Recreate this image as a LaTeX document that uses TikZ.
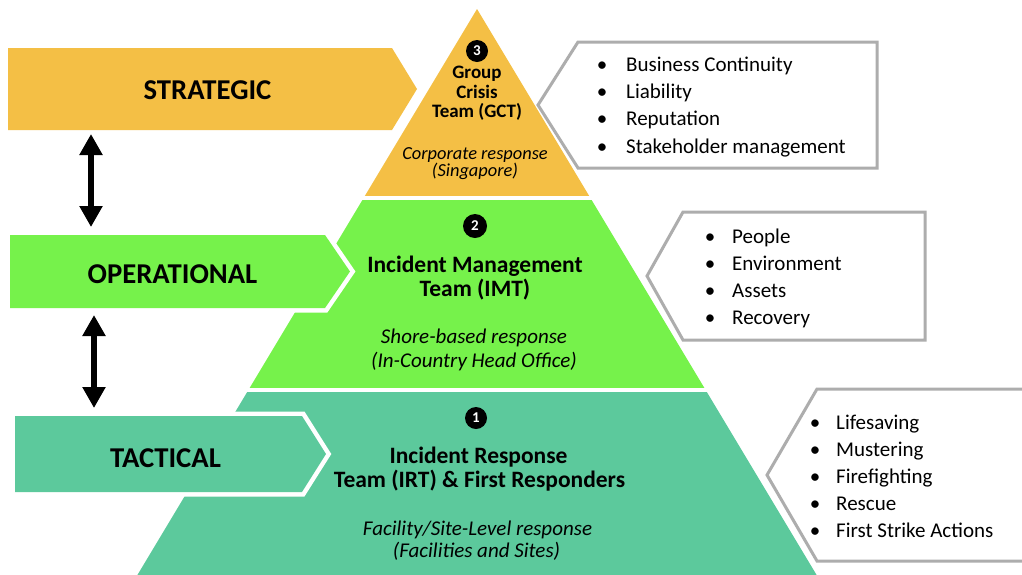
\documentclass[tikz,border=0pt]{standalone}
\usepackage{fontspec}
\setmainfont{Carlito}
\usetikzlibrary{arrows.meta}
\definecolor{cgold}{HTML}{F4BF45}
\definecolor{cgreen}{HTML}{76F24B}
\definecolor{cteal}{HTML}{5CC99C}
\definecolor{cgray}{HTML}{ADADAD}
\tikzset{
  chev/.style={preaction={draw=white,line width=9pt,line join=miter}},
  lvl/.style={font=\fontsize{28.7}{29}\selectfont\bfseries, anchor=base, inner sep=0pt},
  ttl/.style={font=\fontsize{23.5}{24}\selectfont\bfseries, anchor=base, inner sep=0pt},
  ttls/.style={font=\fontsize{19}{20}\selectfont\bfseries, anchor=base, inner sep=0pt},
  sub/.style={font=\fontsize{21}{22}\selectfont\itshape, anchor=base, inner sep=0pt},
  subs/.style={font=\fontsize{18.4}{19}\selectfont\itshape, anchor=base, inner sep=0pt},
  num/.style={circle, fill=black, text=white, inner sep=0pt, minimum size=22pt, font=\fontsize{15}{15}\selectfont\bfseries},
  callout/.style={fill=white, draw=cgray, line width=3pt, line join=miter},
  item/.style={font=\fontsize{21}{21}\selectfont, anchor=base west, inner sep=0pt},
  bul/.style={font=\fontsize{21}{21}\selectfont, anchor=base, inner sep=0pt},
  dbl/.style={line width=6pt, {Triangle[width=22pt,length=21pt]}-{Triangle[width=22pt,length=21pt]}}
}
\begin{document}
\begin{tikzpicture}[x=1pt,y=-1pt]
\useasboundingbox (0,0) rectangle (1022,574);
\clip (0,0) rectangle (1022,574);
\fill[white] (0,0) rectangle (1022,574);
% pyramid
\begin{scope}
  \clip (477,9) -- (837,609) -- (117,609) -- cycle;
  \fill[cgold] (0,0) rectangle (1022,196);
  \fill[cgreen] (0,200) rectangle (1022,388);
  \fill[cteal] (0,392) rectangle (1022,620);
\end{scope}
% chevrons
\fill[cgold,chev] (8,48) -- (392,48) -- (417,89) -- (392,130) -- (8,130) -- cycle;
\fill[cgreen,chev] (10,235) -- (325,235) -- (350,271.5) -- (325,308) -- (10,308) -- cycle;
\fill[cteal,chev] (15,416) -- (302,416) -- (326,454) -- (302,492) -- (15,492) -- cycle;
\node[lvl] (strat) at (207.5,99.5) {STRATEGIC};
\node[lvl] (oper) at (172.5,283) {OPERATIONAL};
\node[lvl] (tact) at (165.5,467) {TACTICAL};
% double arrows
\coordinate (a1t) at (91,134);
\coordinate (a1b) at (91,227);
\coordinate (a2t) at (94,315);
\coordinate (a2b) at (94,408);
\draw[dbl] (a1t) -- (a1b);
\draw[dbl] (a2t) -- (a2b);
% pyramid texts
\node[num] (n3) at (477,51) {3};
\node[ttls] (g1) at (477,78) {Group};
\node[ttls] (g2) at (477,98) {Crisis};
\node[ttls] (g3) at (477,117) {Team (GCT)};
\node[subs] (g4) at (475,159) {Corporate response};
\node[subs] (g5) at (475,176) {(Singapore)};
\node[num,minimum size=24pt] (n2) at (475,226) {2};
\node[ttl] (m1) at (475,272) {Incident Management};
\node[ttl] (m2) at (475,296) {Team (IMT)};
\node[sub] (m3) at (474,343) {Shore-based response};
\node[sub] (m4) at (474,367) {(In-Country Head Office)};
\node[num] (n1) at (476,418) {1};
\node[ttl] (b1) at (478.5,463) {Incident Response};
\node[ttl] (b2) at (479.5,487) {Team (IRT) \& First Responders};
\node[sub] (b3) at (477.5,535.5) {Facility/Site-Level response};
\node[sub] (b4) at (476.5,557) {(Facilities and Sites)};
% callouts
\draw[callout] (538,105) -- (578,42) -- (877,42) -- (877,168) -- (578,168) -- cycle;
\draw[callout] (647,276) -- (683,212) -- (925,212) -- (925,340) -- (683,340) -- cycle;
\draw[callout] (767,475) -- (817,389) -- (1060,389) -- (1060,561) -- (817,561) -- cycle;
% top list
\foreach \t [count=\i] in {Business Continuity,Liability,Reputation,Stakeholder management}{
  \node[bul] (tb\i) at (602,{71+27.4*(\i-1)}) {•};
  \node[item] (ti\i) at (626,{71+27.4*(\i-1)}) {\t};
}
% middle list
\foreach \t [count=\i] in {People,Environment,Assets,Recovery}{
  \node[bul] (mb\i) at (710,{243+27.3*(\i-1)}) {•};
  \node[item] (mi\i) at (732,{243+27.3*(\i-1)}) {\t};
}
% bottom list
\foreach \t [count=\i] in {Lifesaving,Mustering,Firefighting,Rescue,First Strike Actions}{
  \node[bul] (bb\i) at (815,{429.5+27*(\i-1)}) {•};
  \node[item] (bi\i) at (836,{429.5+27*(\i-1)}) {\t};
}
\end{tikzpicture}
\end{document}
